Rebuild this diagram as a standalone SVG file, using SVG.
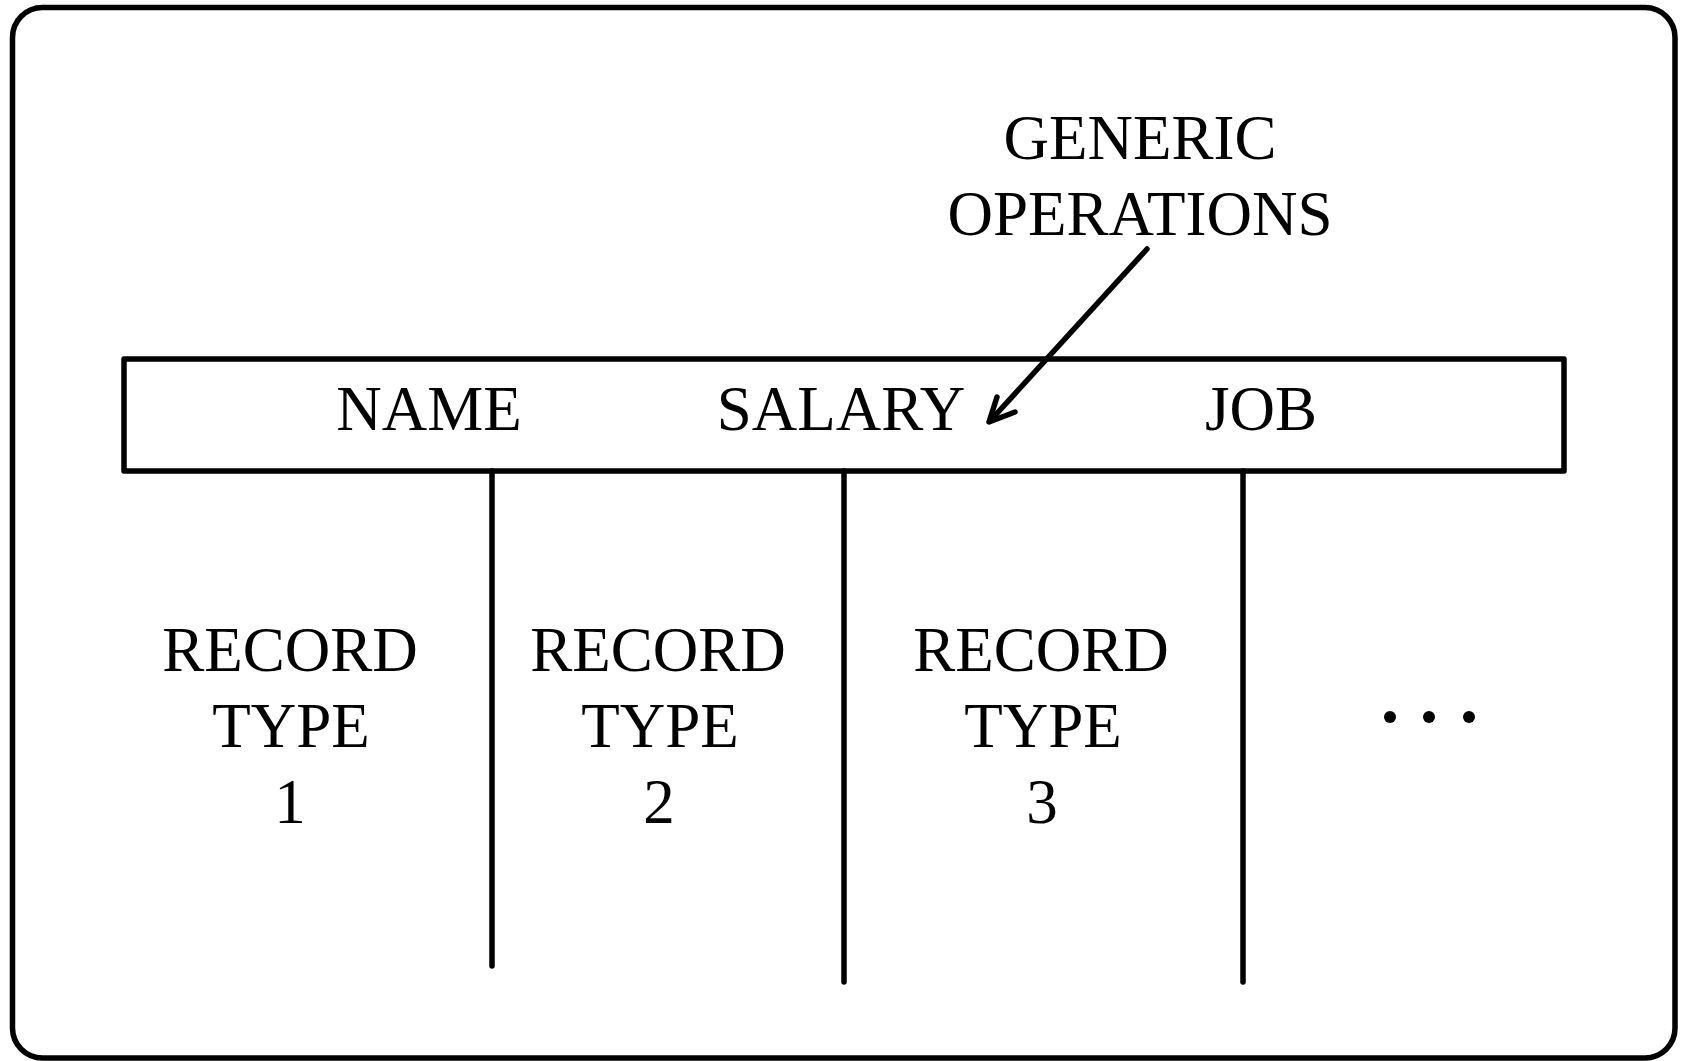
<svg xmlns="http://www.w3.org/2000/svg" width="1683" height="1061" viewBox="0 0 1683 1061">
<style>
.ln{fill:none;stroke:#000;stroke-width:5.5;stroke-linecap:round;stroke-linejoin:round}
.t{font-family:"Liberation Serif","Times New Roman",serif;font-size:63px;fill:#000;text-anchor:middle}
</style>
<rect width="1683" height="1061" fill="#fff"/>
<rect id="frame" x="12.5" y="7.5" width="1662.5" height="1050.5" rx="30" class="ln" stroke-width="6"/>
<g id="fields">
<rect x="124" y="359" width="1440" height="112" class="ln"/>
<text class="t" x="429" y="430">NAME</text>
<text class="t" x="841" y="430">SALARY</text>
<text class="t" x="1261" y="430">JOB</text>
</g>
<g id="generic">
<text class="t" x="1140" y="159">GENERIC</text>
<text class="t" x="1140" y="235">OPERATIONS</text>
</g>
<g id="rt1">
<text class="t" x="290" y="671">RECORD</text>
<text class="t" x="291" y="747">TYPE</text>
<text class="t" x="290" y="823">1</text>
</g>
<g id="rt2">
<text class="t" x="658" y="671">RECORD</text>
<text class="t" x="660" y="747">TYPE</text>
<text class="t" x="659" y="823">2</text>
</g>
<g id="rt3">
<text class="t" x="1041" y="671">RECORD</text>
<text class="t" x="1043" y="747">TYPE</text>
<text class="t" x="1042" y="823">3</text>
</g>
<g id="more">
<circle cx="1390" cy="717" r="6"/>
<circle cx="1429" cy="717" r="6"/>
<circle cx="1469" cy="717" r="6"/>
</g>
<g id="connectors">
<line x1="492" y1="471" x2="492" y2="966" class="ln" stroke-linecap="butt"/>
<line x1="844" y1="471" x2="844" y2="982" class="ln" stroke-linecap="butt"/>
<line x1="1243" y1="471" x2="1243" y2="982" class="ln" stroke-linecap="butt"/>
<line x1="1147" y1="249" x2="990" y2="421" class="ln"/>
<polyline points="997,397 989,422 1015,412" class="ln"/>
</g>
</svg>
